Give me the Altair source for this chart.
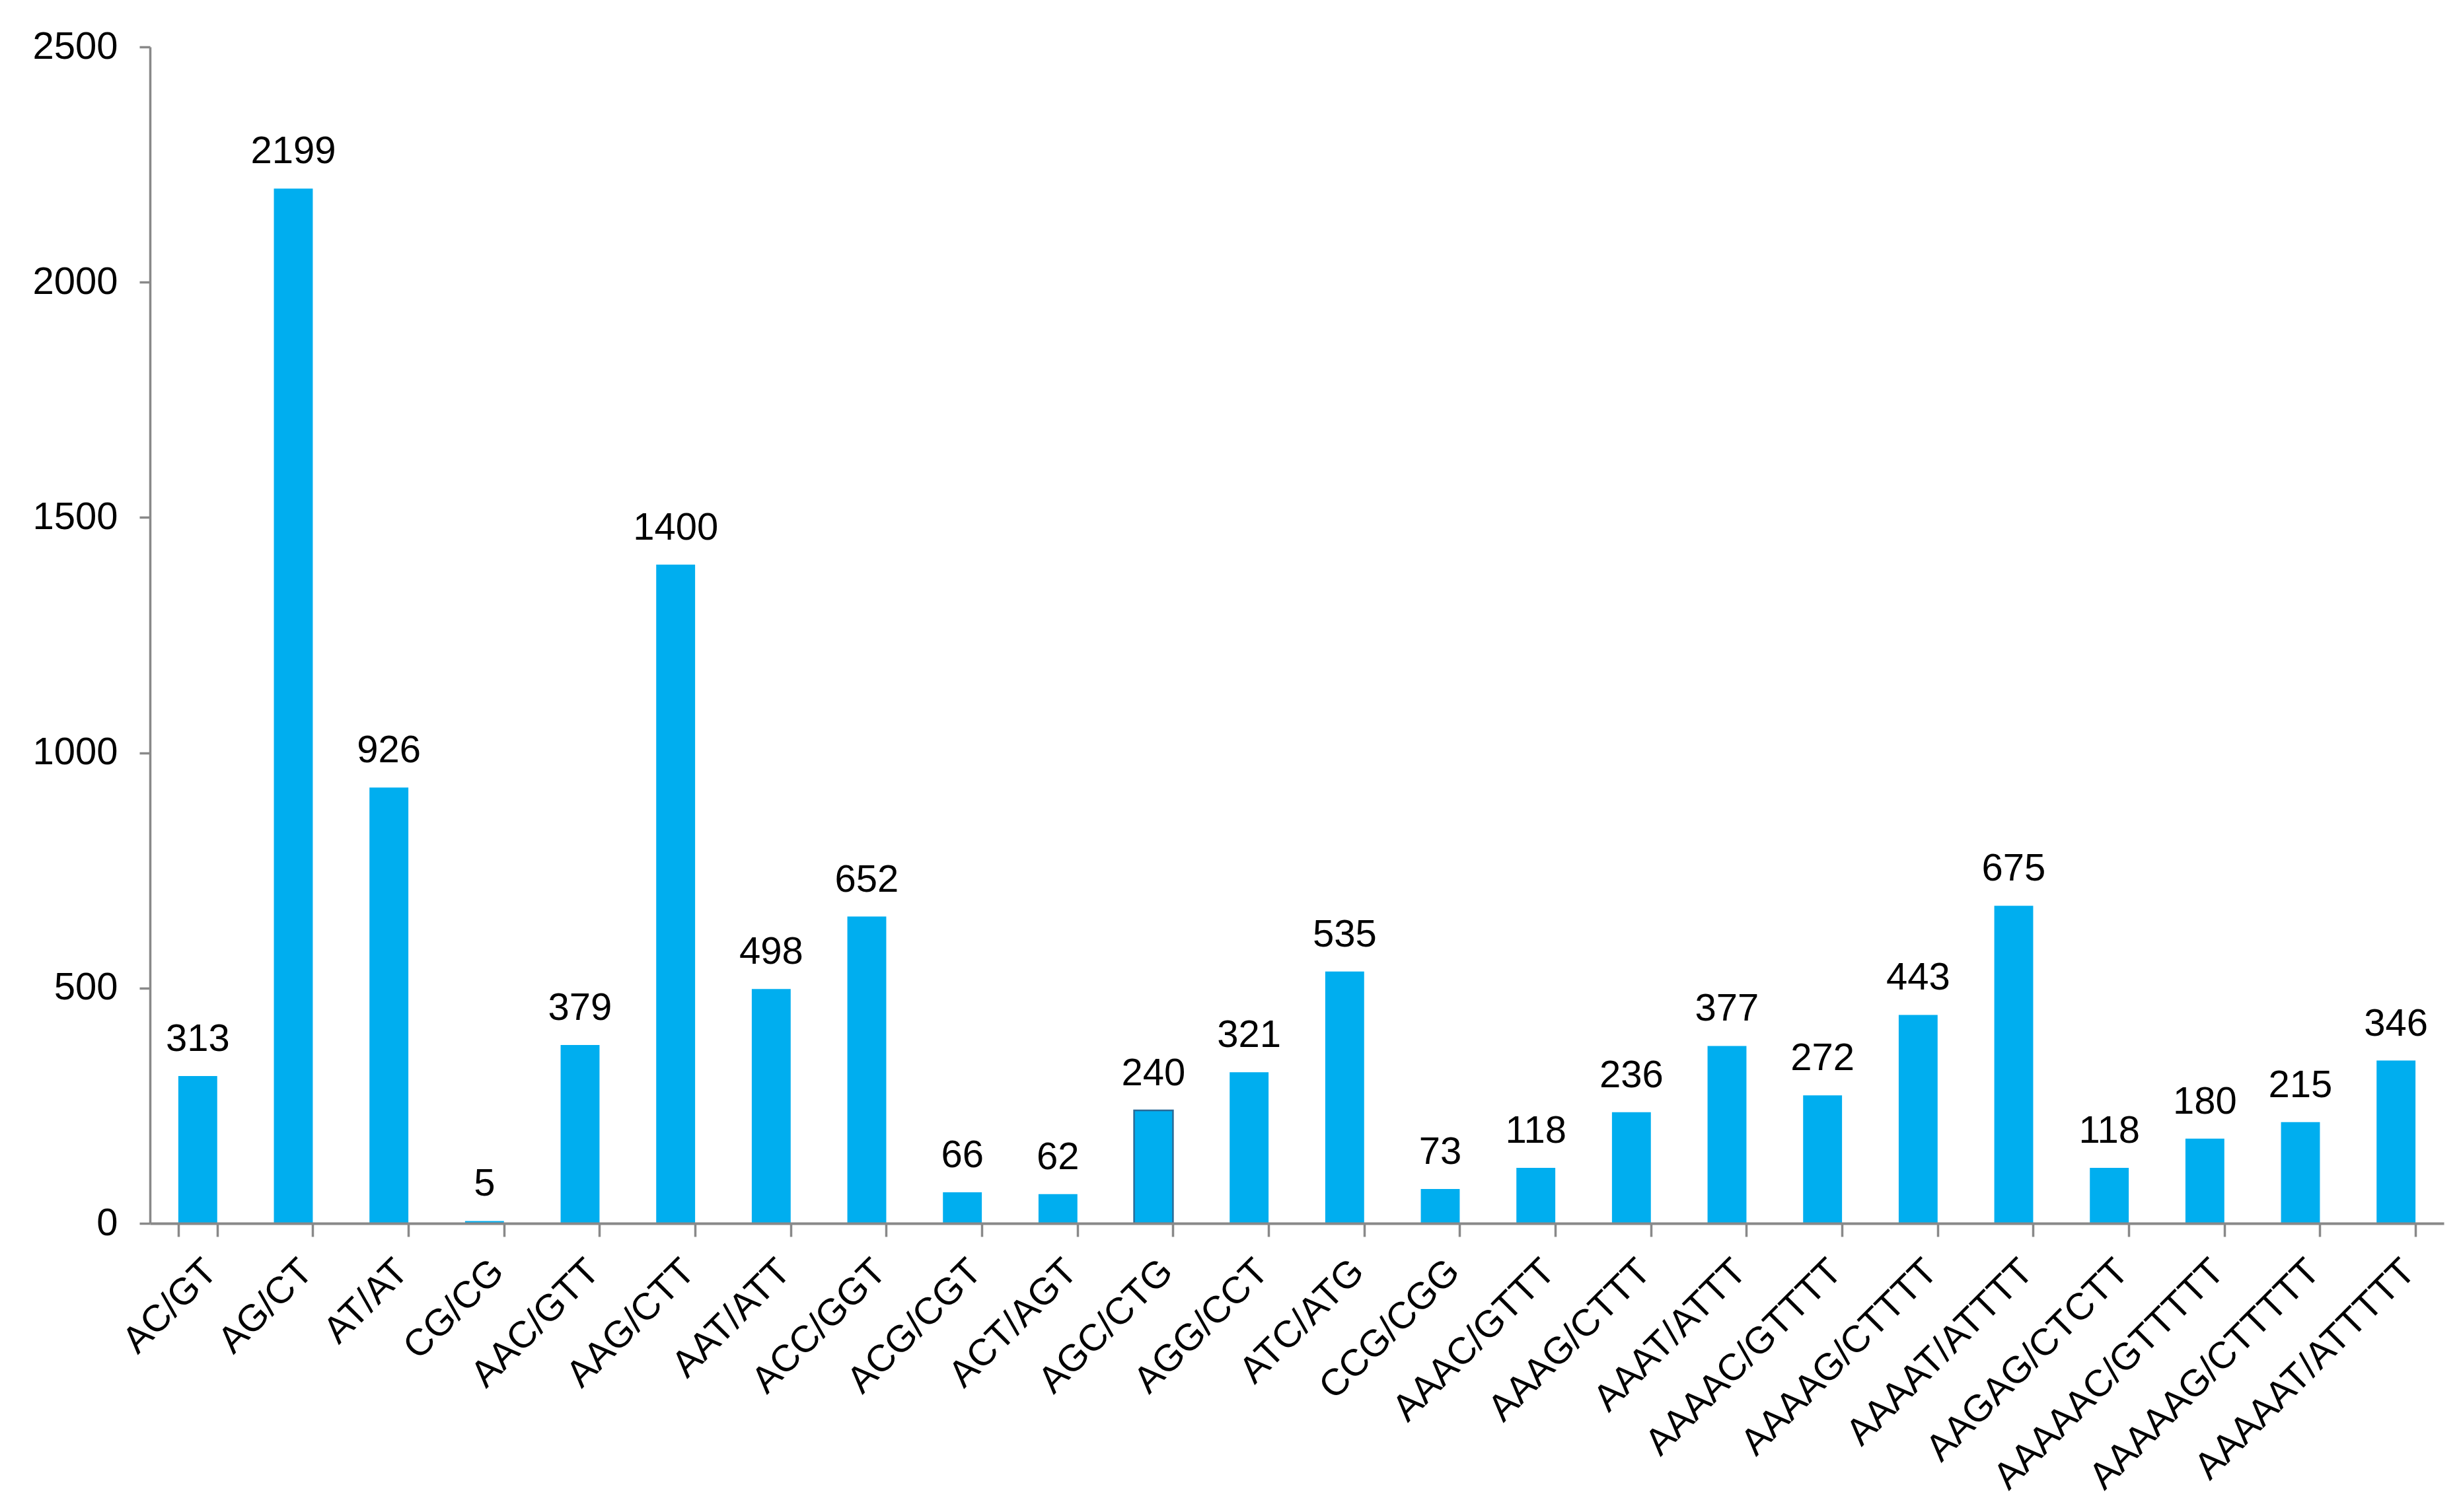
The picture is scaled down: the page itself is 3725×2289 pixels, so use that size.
import altair as alt
import pandas as pd

categories = ["AC/GT", "AG/CT", "AT/AT", "CG/CG", "AAC/GTT", "AAG/CTT", "AAT/ATT",
              "ACC/GGT", "ACG/CGT", "ACT/AGT", "AGC/CTG", "AGG/CCT", "ATC/ATG",
              "CCG/CGG", "AAAC/GTTT", "AAAG/CTTT", "AAAT/ATTT", "AAAAC/GTTTT",
              "AAAAG/CTTTT", "AAAAT/ATTTT", "AAGAG/CTCTT", "AAAAAC/GTTTTT",
              "AAAAAG/CTTTTT", "AAAAAT/ATTTTT"]
counts = [313, 2199, 926, 5, 379, 1400, 498, 652, 66, 62, 240, 321, 535, 73,
          118, 236, 377, 272, 443, 675, 118, 180, 215, 346]
y_ticks = [0, 500, 1000, 1500, 2000, 2500]

df = pd.DataFrame({"motif": categories, "count": counts})

FONT = "Liberation Sans"
AXIS_COLOR = "#898989"

x_enc = alt.X("motif:N", sort=categories, title=None,
              scale=alt.Scale(paddingInner=0.593, paddingOuter=0.2965),
              axis=alt.Axis(labelAngle=-45, labelAlign="right", labelBaseline="top",
                            labelFontSize=57, labelFont=FONT, labelColor="#000000",
                            labelPadding=24, tickBand="extent", tickSize=20,
                            tickWidth=3.5, tickColor=AXIS_COLOR, domainColor=AXIS_COLOR,
                            domainWidth=4, labelOverlap=False, labelLimit=0, zindex=1))
y_enc = alt.Y("count:Q", title=None,
              scale=alt.Scale(domain=[0, 2500], nice=False),
              axis=alt.Axis(values=y_ticks, grid=False, labelFontSize=58, labelFont=FONT,
                            labelColor="#000000", labelPadding=33, tickSize=16,
                            tickWidth=3.5, tickColor=AXIS_COLOR, domainColor=AXIS_COLOR,
                            domainWidth=3.5, format="d"))

bars = alt.Chart(df).mark_bar(color="#00AEEF").encode(
    x=x_enc, y=y_enc,
    stroke=alt.condition(alt.datum.motif == "AGC/CTG", alt.value("#2a6a96"), alt.value(None)),
    strokeWidth=alt.condition(alt.datum.motif == "AGC/CTG", alt.value(2.5), alt.value(0)),
)

labels = alt.Chart(df).mark_text(font=FONT, fontSize=58, color="#000000",
                                 baseline="alphabetic", dy=-38).encode(
    x=alt.X("motif:N", sort=categories), y="count:Q", text="count:Q")

chart = alt.layer(bars, labels).properties(
    width=3472, height=1781,
    autosize=alt.AutoSizeParams(type="none"),
    padding={"left": 219, "top": 63, "right": 18, "bottom": 437},
    background="#ffffff",
).configure_view(stroke=None)

chart.save("out.html", embed_options={"renderer": "svg", "actions": False})
